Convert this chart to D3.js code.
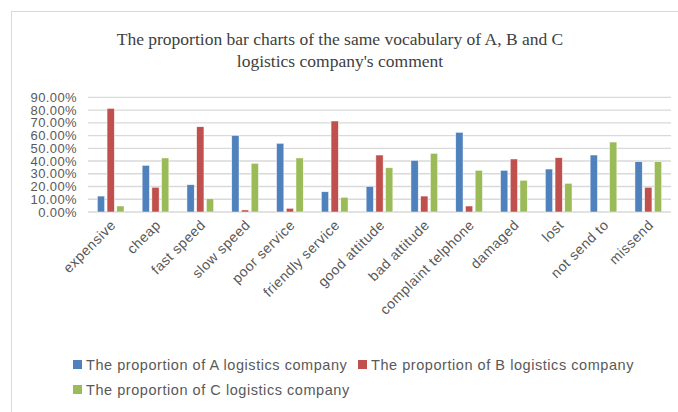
<!DOCTYPE html>
<html>
<head>
<meta charset="utf-8">
<script src="https://cdnjs.cloudflare.com/ajax/libs/d3/7.8.5/d3.min.js"></script>
<style>
    body { margin: 0; background: #fff; }
    text { font-family: "Liberation Sans", Arial, sans-serif; fill: #595959; }
    .title { font-family: "Liberation Serif", "Times New Roman", serif; fill: #404040; }
</style>
</head>
<body>
<svg id="chart"></svg>
<script>
const categories = ["expensive", "cheap", "fast speed", "slow speed", "poor service", "friendly service",
    "good attitude", "bad attitude", "complaint telphone", "damaged", "lost", "not send to", "missend"];
const seriesNames = [
    "The proportion of A logistics company",
    "The proportion of B logistics company",
    "The proportion of C logistics company"
];
const valuesA = [0.125, 0.366, 0.214, 0.601, 0.539, 0.159, 0.201, 0.405, 0.625, 0.327, 0.337, 0.447, 0.395];
const valuesB = [0.813, 0.194, 0.669, 0.016, 0.029, 0.714, 0.447, 0.125, 0.047, 0.416, 0.426, 0.0, 0.194];
const valuesC = [0.047, 0.424, 0.104, 0.382, 0.424, 0.115, 0.347, 0.46, 0.327, 0.249, 0.225, 0.549, 0.395];
const yTicks = [0, 0.1, 0.2, 0.3, 0.4, 0.5, 0.6, 0.7, 0.8, 0.9];
const colors = ["#4F81BD", "#C0504D", "#9BBB59"];

const width = 678, height = 412;
const svg = d3.select("#chart").attr("width", width).attr("height", height);

// chart area border (only left and top edges are inside the picture)
svg.append("rect")
    .attr("x", 11.5).attr("y", 11.5)
    .attr("width", width + 10).attr("height", height + 10)
    .attr("fill", "none").attr("stroke", "#d9d9d9");

// title
svg.append("text").attr("class", "title")
    .attr("x", 340).attr("y", 45)
    .attr("text-anchor", "middle").attr("font-size", 17.5)
    .text("The proportion bar charts of the same vocabulary of A, B and C");
svg.append("text").attr("class", "title")
    .attr("x", 340).attr("y", 67)
    .attr("text-anchor", "middle").attr("font-size", 17.5)
    .text("logistics company's comment");

// scales
const x0 = d3.scaleBand().domain(categories).range([88.3, 670.7]).paddingInner(0.404).paddingOuter(0.202);
const x1 = d3.scaleBand().domain([0, 1, 2]).range([0, x0.bandwidth()]).paddingInner(0.25);
const y = d3.scaleLinear().domain([0, 0.9]).range([212, 97.3]);

// gridlines
svg.append("g")
    .selectAll("line")
    .data(yTicks)
    .join("line")
    .attr("x1", 88).attr("x2", 671)
    .attr("y1", d => y(d)).attr("y2", d => y(d))
    .attr("stroke", "#d9d9d9").attr("stroke-width", 1.3);

// y axis labels
const yAxis = svg.append("g")
    .attr("transform", "translate(77,0)")
    .call(d3.axisLeft(y).tickValues(yTicks).tickSize(0).tickPadding(0).tickFormat(d3.format(".2%")));
yAxis.select(".domain").remove();
yAxis.selectAll("text")
    .attr("font-size", 13)
    .style("font-family", "'Liberation Sans', Arial, sans-serif")
    .style("letter-spacing", "0.4px")
    .attr("fill", "#595959");

// bars
const series = [valuesA, valuesB, valuesC];
const groups = svg.append("g")
    .selectAll("g")
    .data(categories)
    .join("g")
    .attr("transform", d => `translate(${x0(d)},0)`);

groups.selectAll("rect")
    .data((d, i) => series.map((s, j) => ({ s: j, v: s[i] })))
    .join("rect")
    .attr("x", d => x1(d.s))
    .attr("width", x1.bandwidth())
    .attr("y", d => y(d.v))
    .attr("height", d => y(0) - y(d.v))
    .attr("fill", d => colors[d.s])
    .attr("stroke", "#ffffff").attr("stroke-width", 0.6)
    .attr("stroke-opacity", d => d.v > 0 ? 0.8 : 0);

// category axis
const xAxis = svg.append("g")
    .attr("transform", "translate(0,212)")
    .call(d3.axisBottom(x0).tickSize(0).tickPadding(0));
xAxis.select(".domain").remove();
xAxis.selectAll("text")
    .attr("font-size", 14)
    .style("font-family", "'Liberation Sans', Arial, sans-serif")
    .style("letter-spacing", "0.5px")
    .attr("fill", "#595959")
    .attr("text-anchor", "end")
    .attr("dy", null)
    .attr("y", 0)
    .attr("transform", "translate(6,14) rotate(-45)");

// legend
const legendItems = [
    { name: seriesNames[0], color: colors[0], x: 73, y: 365 },
    { name: seriesNames[1], color: colors[1], x: 358, y: 365 },
    { name: seriesNames[2], color: colors[2], x: 73, y: 390 }
];
const legend = svg.append("g")
    .selectAll("g")
    .data(legendItems)
    .join("g")
    .attr("transform", d => `translate(${d.x},${d.y})`);
legend.append("rect")
    .attr("x", 0).attr("y", -5).attr("width", 9).attr("height", 9)
    .attr("fill", d => d.color);
legend.append("text")
    .attr("x", 13).attr("y", 0).attr("dy", "0.35em")
    .attr("font-size", 14.5)
    .style("letter-spacing", "0.55px")
    .text(d => d.name);
</script>
</body>
</html>
